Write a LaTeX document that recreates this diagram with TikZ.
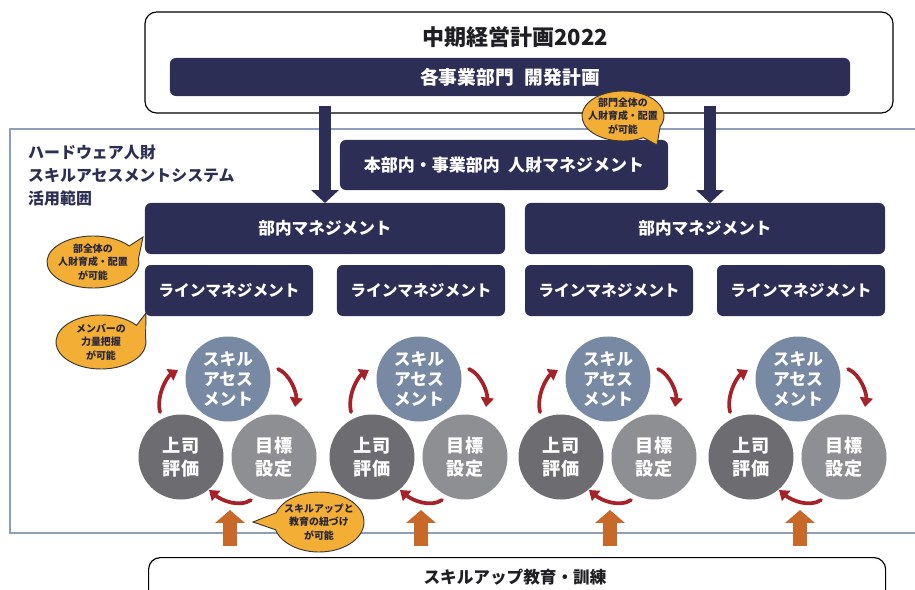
\documentclass[tikz,border=0pt]{standalone}
\usepackage{fontspec}
\setmainfont{Noto Sans CJK JP}
\usetikzlibrary{arrows.meta,calc}
\definecolor{navy}{RGB}{45,46,86}
\definecolor{calloutfill}{RGB}{243,174,53}
\definecolor{calloutline}{RGB}{60,55,50}
\definecolor{callouttxt}{RGB}{40,38,55}
\definecolor{skillc}{RGB}{120,137,164}
\definecolor{bossc}{RGB}{108,108,113}
\definecolor{goalc}{RGB}{142,143,147}
\definecolor{scopec}{RGB}{140,158,185}
\definecolor{redarr}{RGB}{165,35,40}
\definecolor{orangearr}{RGB}{200,105,42}
\definecolor{titletxt}{RGB}{30,30,35}
\begin{document}
\begin{tikzpicture}[x=0.03cm,y=-0.03cm,
  navybox/.style={rectangle,rounded corners=5pt,fill=navy,text=white,inner sep=0pt,font=\bfseries},
  outerbox/.style={draw=black,line width=1pt,rounded corners=10pt,fill=white},
  deptbox/.style={navybox,minimum width=10.8cm,minimum height=1.53cm,font=\bfseries\fontsize{14.2}{17}\selectfont},
  linebox/.style={navybox,minimum width=5.04cm,minimum height=1.53cm,font=\bfseries\fontsize{13.4}{16}\selectfont},
  circ/.style={circle,inner sep=0pt,minimum size=2.55cm,text=white,align=center},
  skillcirc/.style={circ,fill=skillc,font=\bfseries\fontsize{14.3}{17}\selectfont},
  bosscirc/.style={circ,fill=bossc,font=\bfseries\fontsize{15.5}{19.5}\selectfont},
  goalcirc/.style={circ,fill=goalc,font=\bfseries\fontsize{15.5}{19.5}\selectfont},
  callout/.style={fill=calloutfill,draw=calloutline,line width=0.8pt},
  callouttext/.style={align=center,text=callouttxt,inner sep=0pt,font=\bfseries\fontsize{8.5}{11.5}\selectfont},
  bigarrow/.style={draw=navy,line width=11pt,-{Triangle[length=11pt,width=23pt]}},
  redarrow/.style={draw=redarr,line width=3.2pt,line cap=round,-{Triangle[length=8pt,width=11pt]}},
  uparrow/.style={draw=orangearr,line width=11.9pt,-{Triangle[length=11pt,width=24.7pt]}}
]
\useasboundingbox (0,0) rectangle (915,590);
% scope region
\draw[scopec,line width=1.3pt] (10,129) rectangle (940,533);
\node[anchor=north west,align=left,text=navy,inner sep=0pt,font=\bfseries\fontsize{13.6}{19.5}\selectfont] (scopelabel) at (28,145) {ハードウェア人財\\スキルアセスメントシステム\\活用範囲};
% top box
\node[outerbox,minimum width=22.44cm,minimum height=3.03cm] (top) at (519,62.5) {};
\node[text=titletxt,font=\bfseries\fontsize{18.8}{22}\selectfont,inner sep=0pt] (title) at (515,37) {中期経営計画2022};
\node[navybox,minimum width=20.4cm,minimum height=1.14cm,font=\bfseries\fontsize{16}{19}\selectfont] (bar) at (510,77) {各事業部門\hspace{0.6em}開発計画};
% bottom box
\node[outerbox,minimum width=22.11cm,minimum height=2.4cm,anchor=north west] (bot) at (148,557) {};
\node[text=titletxt,font=\bfseries\fontsize{14.2}{17}\selectfont,inner sep=0pt] (bottxt) at (515,577) {スキルアップ教育・訓練};
% middle box
\node[navybox,minimum width=9.84cm,minimum height=1.5cm,font=\bfseries\fontsize{14.5}{17}\selectfont] (mid) at (504,165) {本部内・事業部内\hspace{0.5em}人財マネジメント};
% dept boxes
\node[deptbox] (d1) at (325,228.5) {部内マネジメント};
\node[deptbox] (d2) at (705,228.5) {部内マネジメント};
% line boxes
\node[linebox] (l1) at (229,290.5) {ラインマネジメント};
\node[linebox] (l2) at (421,290.5) {ラインマネジメント};
\node[linebox] (l3) at (609,290.5) {ラインマネジメント};
\node[linebox] (l4) at (801,290.5) {ラインマネジメント};
% big arrows
\coordinate (a1s) at (325,106);
\coordinate (a1e) at (325,203);
\coordinate (a2s) at (710,106);
\coordinate (a2e) at (710,203);
\draw[bigarrow] (a1s) -- (a1e);
\draw[bigarrow] (a2s) -- (a2e);
% cycles
\foreach \cx/\n in {228/1,419/2,608/3,798/4}{
  \node[skillcirc] (s\n) at (\cx,379) {スキル\\アセス\\メント};
  \node[bosscirc] (b\n) at (\cx-47,457) {上司\\評価};
  \node[goalcirc] (g\n) at (\cx+46,457) {目標\\設定};
  \coordinate (rl\n s) at (\cx-68,412);
  \coordinate (rl\n e) at (\cx-50,370);
  \coordinate (rr\n s) at (\cx+50,369);
  \coordinate (rr\n e) at (\cx+67,407);
  \coordinate (rb\n s) at (\cx+23,500);
  \coordinate (rb\n e) at (\cx-19,490);
  \draw[redarrow] (rl\n s) .. controls ($(rl\n s)+(-4,-18)$) and ($(rl\n e)+(-10,6)$) .. (rl\n e);
  \draw[redarrow] (rr\n s) .. controls ($(rr\n s)+(12,5)$) and ($(rr\n e)+(2,-14)$) .. (rr\n e);
  \draw[redarrow] (rb\n s) .. controls ($(rb\n s)+(-12,8)$) and ($(rb\n e)+(12,10)$) .. (rb\n e);
  \coordinate (up\n s) at (\cx+2,546);
  \coordinate (up\n e) at (\cx+2,510);
  \draw[uparrow] (up\n s) -- (up\n e);
}
% callouts
\draw[callout] (657,145) -- ($(623,116)+(60:41 and 25)$) arc[start angle=60,end angle=385,x radius=41,y radius=25] -- cycle;
\node[callouttext] (c1) at (623,116) {部門全体の\\人財育成・配置\\が可能};
\draw[callout] (143,237) -- ($(93,262)+(-8:46 and 26)$) arc[start angle=-8,end angle=322,x radius=46,y radius=26] -- cycle;
\node[callouttext] (c2) at (93,262) {部全体の\\人財育成・配置\\が可能};
\draw[callout] (146,313) -- ($(101,342)+(-8:45 and 27)$) arc[start angle=-8,end angle=322,x radius=45,y radius=27] -- cycle;
\node[callouttext] (c3) at (101,342) {メンバーの\\力量把握\\が可能};
\draw[callout] (253,522) -- ($(319,522)+(198:45 and 30)$) arc[start angle=198,end angle=525,x radius=45,y radius=30] -- cycle;
\node[callouttext] (c4) at (319,522) {スキルアップと\\教育の紐づけ\\が可能};
\end{tikzpicture}
\end{document}
